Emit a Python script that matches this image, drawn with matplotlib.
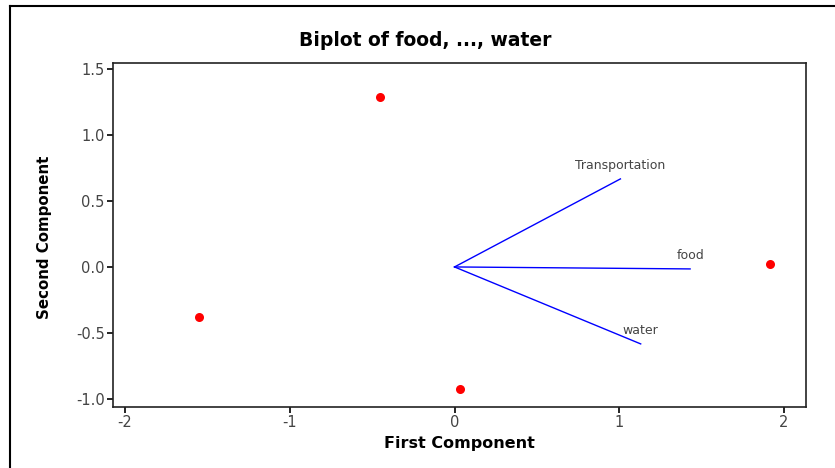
import matplotlib.pyplot as plt
from matplotlib.lines import Line2D

# scores
score_x = [-0.45, -1.55, 0.035, 1.915]
score_y = [1.29, -0.38, -0.924, 0.023]

# loadings
var_names = ["Transportation", "food", "water"]
load_x = [1.007, 1.43, 1.13]
load_y = [0.667, -0.015, -0.583]

W, H = 835, 468
fig = plt.figure(figsize=(W / 100, H / 100), dpi=100)
ax = fig.add_axes([113 / W, 1 - 407 / H, (805.6 - 113) / W, (407 - 63) / H])

# outer frame of the figure (only left/top visible)
fig.add_artist(Line2D([10 / W, 10 / W], [0, 1 - 6 / H], color="black", lw=1.5))
fig.add_artist(Line2D([10 / W, 1], [1 - 6 / H, 1 - 6 / H], color="black", lw=1.5))

for name, lx, ly in zip(var_names, load_x, load_y):
    ax.plot([0, lx], [0, ly], color="blue", lw=1)
    ax.text(lx, ly + 0.055, name, color="#444444", fontsize=9,
            ha="center", va="bottom")

ax.plot(score_x, score_y, "o", color="red", markersize=6.5, markeredgewidth=0)

ax.set_xlim(-2.073, 2.131)
ax.set_ylim(-1.061, 1.545)
ax.set_xticks([-2, -1, 0, 1, 2])
ax.set_xticklabels(["-2", "-1", "0", "1", "2"])
ax.set_yticks([-1.0, -0.5, 0.0, 0.5, 1.0, 1.5])
ax.set_yticklabels(["-1.0", "-0.5", "0.0", "0.5", "1.0", "1.5"])
ax.tick_params(direction="out", length=4, width=1.2, labelsize=10.5,
               labelcolor="#444444", pad=2)
for s in ax.spines.values():
    s.set_linewidth(1.2)
    s.set_color("#222222")

fig.text(425 / W, 1 - 41 / H, "Biplot of food, ..., water", fontsize=13.5,
         fontweight="bold", ha="center", va="center")
ax.set_xlabel("First Component", fontsize=11.5, fontweight="bold", labelpad=4)
fig.text(45 / W, 1 - 237 / H, "Second Component", fontsize=10.8, fontweight="bold",
         rotation=90, ha="center", va="center")

fig.savefig("out.png", dpi=100)
